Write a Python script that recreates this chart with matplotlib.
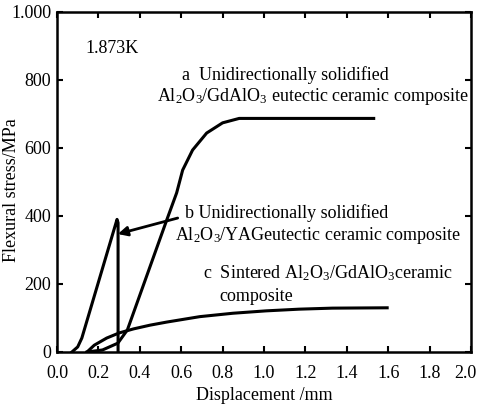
import numpy as np
import matplotlib.pyplot as plt
import matplotlib.transforms as mtransforms

plt.rcParams["font.family"] = ["Liberation Serif", "DejaVu Serif"]
plt.rcParams["mathtext.fontset"] = "custom"
plt.rcParams["mathtext.rm"] = "Liberation Serif"
plt.rcParams["mathtext.it"] = "Liberation Serif:italic"

# curve a: directionally solidified Al2O3/GdAlO3
a_x = [0.145, 0.22, 0.294, 0.34, 0.45, 0.53, 0.578, 0.607, 0.655, 0.723, 0.80, 0.88, 1.53]
a_y = [0, 6, 26, 65, 252, 388, 468, 535, 594, 644, 674, 687, 687]

# curve b: directionally solidified Al2O3/YAG
b_x = [0.072, 0.10, 0.12, 0.29, 0.295, 0.295]
b_y = [0, 15, 41, 390, 380, 0]

# curve c: sintered Al2O3/GdAlO3
c_x = [0.145, 0.18, 0.24, 0.30, 0.37, 0.45, 0.53, 0.69, 0.85, 1.01, 1.17, 1.33, 1.595]
c_y = [0, 20, 41, 56, 68, 79, 88, 104, 114, 121, 126, 129, 130]

x_ticks = [0.0, 0.2, 0.4, 0.6, 0.8, 1.0, 1.2, 1.4, 1.6, 1.8, 2.0]
y_ticks = [0, 200, 400, 600, 800, 1000]
y_labels = ["0", "200", "400", "600", "800", "1.000"]

fig = plt.figure(figsize=(4.78, 4.09), dpi=100)
ax = fig.add_axes([57 / 478, 57 / 409, 414 / 478, 340 / 409])

for xs, ys in [(a_x, a_y), (b_x, b_y), (c_x, c_y)]:
    ax.plot(xs, ys, color="black", lw=2.2, solid_joinstyle="round")

ax.set_xlim(0, 2.0)
ax.set_ylim(0, 1000)
ax.set_xticks(x_ticks)
ax.set_xticklabels([f"{v:.1f}" for v in x_ticks])
ax.set_yticks(y_ticks)
ax.set_yticklabels(y_labels)
ax.tick_params(direction="in", length=4, width=1.5, labelsize=13,
               top=True, right=True)
ax.tick_params(axis="x", pad=9)
ax.tick_params(axis="y", pad=4)
for s in ax.spines.values():
    s.set_linewidth(1.8)

# last x label sits a little left so it stays inside the picture
last = ax.get_xticklabels()[-1]
last.set_transform(last.get_transform() +
                   mtransforms.ScaledTranslation(-0.06, 0, fig.dpi_scale_trans))

ax.set_xlabel("Displacement /mm", fontsize=13)
ax.xaxis.set_label_coords(0.5, -0.103)
ax.set_ylabel("Flexural stress/MPa", fontsize=13)
ax.yaxis.set_label_coords(-0.09, 0.476)

fs = 13
ax.text(0.135, 894, "1.873K", fontsize=fs, va="center")
ax.text(0.602, 815, "a  Unidirectionally solidified", fontsize=fs, va="center")
ax.text(0.482, 750, r"Al$_2$O$_3$/GdAlO$_3$ eutectic ceramic composite",
        fontsize=fs, va="center")
ax.text(0.617, 409, "b Unidirectionally solidified", fontsize=fs, va="center")
ax.text(0.569, 344, r"Al$_2$O$_3$/YAGeutectic ceramic composite",
        fontsize=fs, va="center")
ax.text(0.704, 232, r"c  Sintered Al$_2$O$_3$/GdAlO$_3$ceramic",
        fontsize=fs, va="center")
ax.text(0.786, 162, "composite", fontsize=fs, va="center")

ax.annotate("", xy=(0.294, 347), xytext=(0.583, 394),
            arrowprops=dict(arrowstyle="-|>", color="black", lw=2,
                            mutation_scale=14, shrinkA=0, shrinkB=0))

fig.savefig("out.png", dpi=100)
